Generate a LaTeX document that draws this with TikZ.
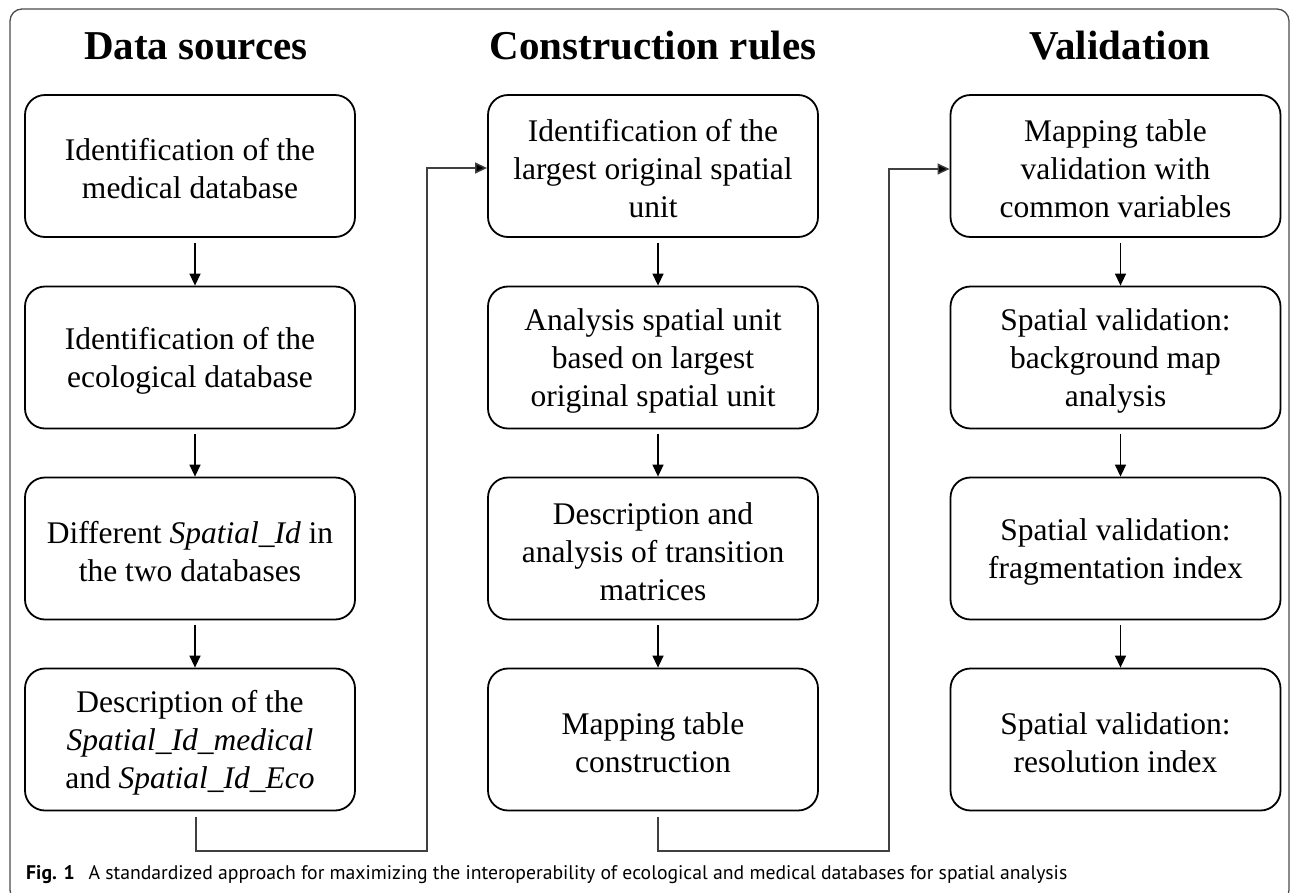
\documentclass[tikz,border=0pt]{standalone}
\usepackage{fontspec}
\setmainfont{Liberation Serif}
\newfontfamily\capfont{PT Sans}
\usetikzlibrary{arrows.meta}
\begin{document}
\begin{tikzpicture}[x=1pt,y=-1pt,
  box/.style={draw=black,line width=1.8pt,rounded corners=20pt,minimum width=330pt,minimum height=142pt,inner sep=0pt},
  txt/.style={align=center,font=\fontsize{31.5}{38}\selectfont,inner sep=0pt},
  ttl/.style={anchor=base,font=\fontsize{41}{46}\selectfont\bfseries,inner sep=0pt},
  arr/.style={line width=1.4pt,-{Triangle[length=12pt,width=11pt]}},
  conn/.style={draw=black!75,line width=1.4pt,-{Triangle[length=12pt,width=11pt,fill=black]}},
  frm/.style={draw=black!70,line width=1.3pt,rounded corners=12pt}]
\useasboundingbox (0,0) rectangle (1293,892);
\begin{scope}
\clip (0,0) rectangle (1293,892);
\draw[frm] (10,9) rectangle (1289,902);
\end{scope}
% titles
\node[ttl] (t1) at (196,59) {Data sources};
\node[ttl] (t2) at (653,59) {Construction rules};
\node[ttl] (t3) at (1120,59) {Validation};
% column 1
\node[box] (a1) at (190,166) {};
\node[box] (a2) at (190,357.5) {};
\node[box] (a3) at (190,548.5) {};
\node[box] (a4) at (190,739.5) {};
\node[txt] (a1t) at ([yshift=-3pt]a1.center) {Identification of the\\medical database};
\node[txt] (a2t) at ([yshift=-3pt]a2.center) {Identification of the\\ecological database};
\node[txt] (a3t) at ([yshift=-3pt]a3.center) {Different \textit{Spatial\_Id} in\\the two databases};
\node[txt] (a4t) at ([yshift=-3pt]a4.center) {Description of the\\\textit{Spatial\_Id\_medical}\\and \textit{Spatial\_Id\_Eco}};
% column 2
\node[box] (b1) at (653,166) {};
\node[box] (b2) at (653,357.5) {};
\node[box] (b3) at (653,548.5) {};
\node[box] (b4) at (653,739.5) {};
\node[txt] (b1t) at ([yshift=-3pt]b1.center) {Identification of the\\largest original spatial\\unit};
\node[txt] (b2t) at ([yshift=-3pt]b2.center) {Analysis spatial unit\\based on largest\\original spatial unit};
\node[txt] (b3t) at ([yshift=-3pt]b3.center) {Description and\\analysis of transition\\matrices};
\node[txt] (b4t) at ([yshift=-3pt]b4.center) {Mapping table\\construction};
% column 3
\node[box] (c1) at (1115.5,166) {};
\node[box] (c2) at (1115.5,357.5) {};
\node[box] (c3) at (1115.5,548.5) {};
\node[box] (c4) at (1115.5,739.5) {};
\node[txt] (c1t) at ([yshift=-3pt]c1.center) {Mapping table\\validation with\\common variables};
\node[txt] (c2t) at ([yshift=-3pt]c2.center) {Spatial validation:\\background map\\analysis};
\node[txt] (c3t) at ([yshift=-3pt]c3.center) {Spatial validation:\\fragmentation index};
\node[txt] (c4t) at ([yshift=-3pt]c4.center) {Spatial validation:\\resolution index};
% vertical arrows
\foreach \p/\q in {a1/a2,a2/a3,a3/a4,b1/b2,b2/b3,b3/b4,c1/c2,c2/c3,c3/c4}
  \draw[arr] ([shift={(5,5)}]\p.south) -- ([shift={(5,0)}]\q.north);
% connectors between columns
\coordinate (j1) at (427,851);
\coordinate (j2) at (889,851);
\draw[conn] ([shift={(6,6)}]a4.south) |- (j1) |- ([yshift=-2pt]b1.west);
\draw[conn] ([shift={(5,6)}]b4.south) |- (j2) |- ([yshift=-3pt]c1.west);
% caption
\node[anchor=base west,inner sep=0pt,font=\capfont\fontsize{19.7}{24}\selectfont] (cap) at (26,879) {\textbf{Fig. 1}\hspace{0.7em}A standardized approach for maximizing the interoperability of ecological and medical databases for spatial analysis};
\end{tikzpicture}
\end{document}
